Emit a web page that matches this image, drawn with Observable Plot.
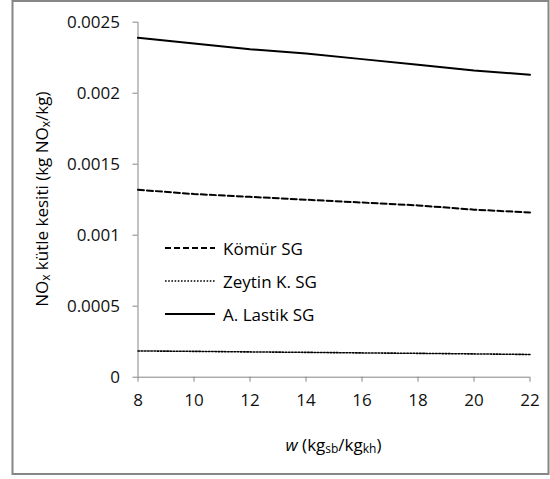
<!DOCTYPE html>
<html>
<head>
<meta charset="utf-8">
<script src="https://cdn.jsdelivr.net/npm/d3@7"></script>
<script src="https://cdn.jsdelivr.net/npm/@observablehq/plot@0.6"></script>
<style>
  html, body { margin: 0; padding: 0; background: #fff; }
  #chart svg { display: block; }
</style>
</head>
<body>
<div id="chart"></div>
<script>
// w (kg_sb / kg_kh) values
const wValues = [8, 10, 12, 14, 16, 18, 20, 22];

// NOx mass cross-section (kg NOx / kg) per gasifier
const komurSG   = [0.00132, 0.00129, 0.00127, 0.00125, 0.00123, 0.00121, 0.00118, 0.00116];
const zeytinSG  = [0.000185, 0.000182, 0.000178, 0.000175, 0.000171, 0.000168, 0.000164, 0.00016];
const lastikSG  = [0.00239, 0.00235, 0.00231, 0.00228, 0.00224, 0.00220, 0.00216, 0.00213];

const seriesNames = ["Kömür SG", "Zeytin K. SG", "A. Lastik SG"];
const seriesValues = [komurSG, zeytinSG, lastikSG];
const seriesDash = ["6,3", "1.6,1.6", null];
const seriesWidth = [2, 1.6, 2];

const yTicks = [0, 0.0005, 0.001, 0.0015, 0.002, 0.0025];
const yTickLabels = ["0", "0.0005", "0.001", "0.0015", "0.002", "0.0025"];
const xTicks = [8, 10, 12, 14, 16, 18, 20, 22];

const rows = seriesNames.flatMap((name, i) =>
  wValues.map((w, j) => ({ w, v: seriesValues[i][j], s: name }))
);

const W = 550, H = 479;
const FONT = "'Open Sans', 'DejaVu Sans', sans-serif";
const AXIS = "#868686";

const plot = Plot.plot({
  width: W,
  height: H,
  marginLeft: 137.5,
  marginRight: 20.5,
  marginTop: 21.7,
  marginBottom: 102.3,
  style: { fontFamily: FONT, fontSize: "17px", background: "#fff", color: "#111" },
  x: { domain: [8, 22] },
  y: { domain: [0, 0.0025] },
  marks: [
    Plot.axisY({
      ticks: yTicks,
      tickFormat: d => yTickLabels[yTicks.indexOf(d)],
      tickSize: 5,
      tickPadding: 13,
      stroke: AXIS,
      fill: "#111",
      label: null
    }),
    Plot.axisX({
      ticks: xTicks,
      tickFormat: d => String(d),
      tickSize: 5,
      tickPadding: 12,
      stroke: AXIS,
      fill: "#111",
      label: null
    }),
    Plot.ruleX([8], { stroke: AXIS, strokeWidth: 1 }),
    Plot.ruleY([0], { stroke: AXIS, strokeWidth: 1 }),
    ...seriesNames.map((name, i) =>
      Plot.line(rows.filter(r => r.s === name), {
        x: "w",
        y: "v",
        stroke: "#000",
        strokeWidth: seriesWidth[i],
        strokeDasharray: seriesDash[i] || undefined
      })
    )
  ]
});

document.getElementById("chart").appendChild(plot);

const svg = d3.select(plot);
const xs = plot.scale("x"), ys = plot.scale("y");

// outer frame of the chart area
svg.append("rect")
  .attr("x", 12.5).attr("y", 1)
  .attr("width", 536).attr("height", 473)
  .attr("fill", "none")
  .attr("stroke", AXIS)
  .attr("stroke-width", 2);

// y-axis title with subscripts
const yCenter = (ys.range[0] + ys.range[1]) / 2;
const yTitle = svg.append("text")
  .attr("transform", `translate(41,${yCenter}) rotate(-90)`)
  .attr("text-anchor", "middle")
  .attr("dominant-baseline", "central")
  .attr("font-family", FONT)
  .attr("font-size", 17)
  .attr("fill", "#000");
yTitle.append("tspan").text("NO");
yTitle.append("tspan").attr("font-size", 12).attr("dy", 4).text("x");
yTitle.append("tspan").attr("dy", -4).text(" kütle kesiti (kg NO");
yTitle.append("tspan").attr("font-size", 12).attr("dy", 4).text("x");
yTitle.append("tspan").attr("dy", -4).text("/kg)");

// x-axis title with subscripts
const xCenter = (xs.range[0] + xs.range[1]) / 2;
const xTitle = svg.append("text")
  .attr("x", xCenter).attr("y", 444)
  .attr("text-anchor", "middle")
  .attr("dominant-baseline", "central")
  .attr("font-family", FONT)
  .attr("font-size", 17)
  .attr("fill", "#000");
xTitle.append("tspan").attr("font-style", "italic").text("w");
xTitle.append("tspan").text(" (kg");
xTitle.append("tspan").attr("font-size", 12).attr("dy", 4).text("sb");
xTitle.append("tspan").attr("dy", -4).text("/kg");
xTitle.append("tspan").attr("font-size", 12).attr("dy", 4).text("kh");
xTitle.append("tspan").attr("dy", -4).text(")");

// legend
const legend = svg.append("g")
  .attr("font-family", FONT)
  .attr("font-size", 17)
  .attr("text-anchor", "start");
seriesNames.forEach((name, i) => {
  const cy = 248 + i * 33;
  legend.append("line")
    .attr("x1", 165).attr("x2", 215)
    .attr("y1", cy).attr("y2", cy)
    .attr("stroke", "#000")
    .attr("stroke-width", seriesWidth[i])
    .attr("stroke-dasharray", seriesDash[i]);
  legend.append("text")
    .attr("x", 223).attr("y", cy)
    .attr("text-anchor", "start")
    .attr("dominant-baseline", "central")
    .attr("fill", "#000")
    .text(name);
});
</script>
</body>
</html>
